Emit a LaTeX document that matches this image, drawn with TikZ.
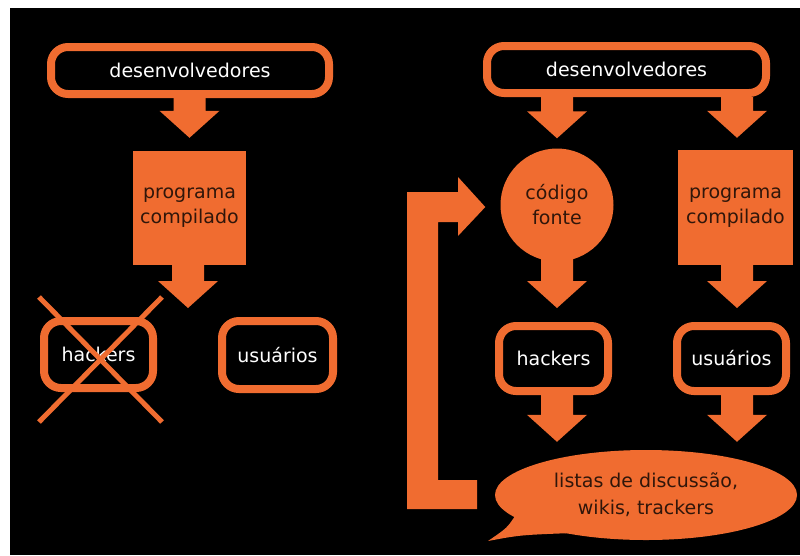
\documentclass[tikz,border=0pt]{standalone}
\usepackage{fontspec}
\setmainfont{DejaVu Sans}
\usetikzlibrary{calc,shapes.geometric}
\definecolor{brand}{RGB}{240,108,48}
\definecolor{inktext}{RGB}{48,22,10}
\tikzset{
  labelfont/.style={font=\fontsize{19}{25}\selectfont},
  outline/.style={draw=brand, line width=8pt, fill=black, rounded corners=17pt,
    text=white, labelfont, inner sep=0pt, align=center},
  solidbox/.style={fill=brand, text=inktext, labelfont, inner sep=0pt, align=center},
  arrowfill/.style={fill=brand},
  strike/.style={draw=brand, line width=5pt}
}
% block arrow pointing down: shaft starts at the height of #1, tip at #2
\newcommand\blockdown[2]{%
  \fill[arrowfill] let \p1=#1, \p2=#2 in
    (\x2-16,\y1) -- (\x2+16,\y1) -- (\x2+16,\y2+27) -- (\x2+30,\y2+27)
    -- (\x2,\y2) -- (\x2-30,\y2+27) -- (\x2-16,\y2+27) -- cycle;}

\begin{document}
\begin{tikzpicture}[x=1pt,y=-1pt]
\useasboundingbox (0,0) rectangle (800,555);
\fill[white] (0,0) rectangle (800,555);
\fill[black] (10,8) rectangle (800,555);

% ---- closed model (left) ----
\node[outline, minimum width=278pt, minimum height=47pt] (desL) at (190,70.5) {desenvolvedores};
\node[solidbox, minimum width=113pt, minimum height=114pt] (progL) at (189.5,208) {programa\\compilado};
\node[outline, minimum width=109pt, minimum height=67pt] (hackL) at (98.5,354.5) {hackers};
\node[outline, minimum width=111pt, minimum height=68pt] (usuL) at (277.5,355) {usuários};
\coordinate (tipL) at (188,308);

\blockdown{(desL.south)}{($(progL.north)+(0,-13)$)}
\blockdown{(progL.south)}{(tipL)}

% cross over the hackers box
\draw[strike] ($(hackL.north west)+(-1,-20)$) -- ($(hackL.south east)+(5,30)$);
\draw[strike] ($(hackL.north east)+(5,-20)$) -- ($(hackL.south west)+(-1,30)$);

% ---- open model (right) ----
\node[outline, minimum width=279pt, minimum height=47pt] (desR) at (626.5,69.5) {desenvolvedores};
\node[circle, fill=brand, minimum size=113pt, inner sep=0pt, text=inktext, labelfont, align=center] (code) at (557,205) {código\\fonte};
\node[solidbox, minimum width=115pt, minimum height=115pt] (progR) at (735.5,207.5) {programa\\compilado};
\node[outline, minimum width=109pt, minimum height=65pt] (hackR) at (553.5,358.5) {hackers};
\node[outline, minimum width=109pt, minimum height=65pt] (usuR) at (731.5,358.5) {usuários};
\node[ellipse, fill=brand, minimum width=302pt, minimum height=90pt, inner sep=0pt,
      text=inktext, font=\fontsize{19}{27}\selectfont, align=center] (forum) at (646,495)
      {listas de discussão,\\wikis, trackers};
% speech bubble tail
\fill[brand] (530,512) -- (515,516) .. controls (507,528) .. (488,541)
  .. controls (520,535) .. (572,533) -- (578,520) -- cycle;

\blockdown{(desR.south)}{($(code.north)+(0,-10)$)}
\blockdown{(desR.south)}{($(progR.north)+(1.5,-12)$)}
\blockdown{($(code.south)+(0,-10)$)}{($(hackR.north -| code.south)+(0,-14)$)}
\blockdown{(progR.south)}{($(usuR.north -| progR.south)+(1.5,-14)$)}
\blockdown{(hackR.south)}{($(code.south |- forum.north)+(0,-8)$)}
\blockdown{(usuR.south)}{($(progR.south |- forum.north)+(1.5,-8)$)}

% feedback arrow from the forums back to the source code
\fill[arrowfill] (407,509) -- (407,192) -- (458,192) -- (458,177)
  -- ($(code.west)+(-15,2)$) -- (458,236) -- (458,222) -- (438,222)
  -- (438,480) -- (477,480) -- (477,509) -- cycle;
\end{tikzpicture}
\end{document}
